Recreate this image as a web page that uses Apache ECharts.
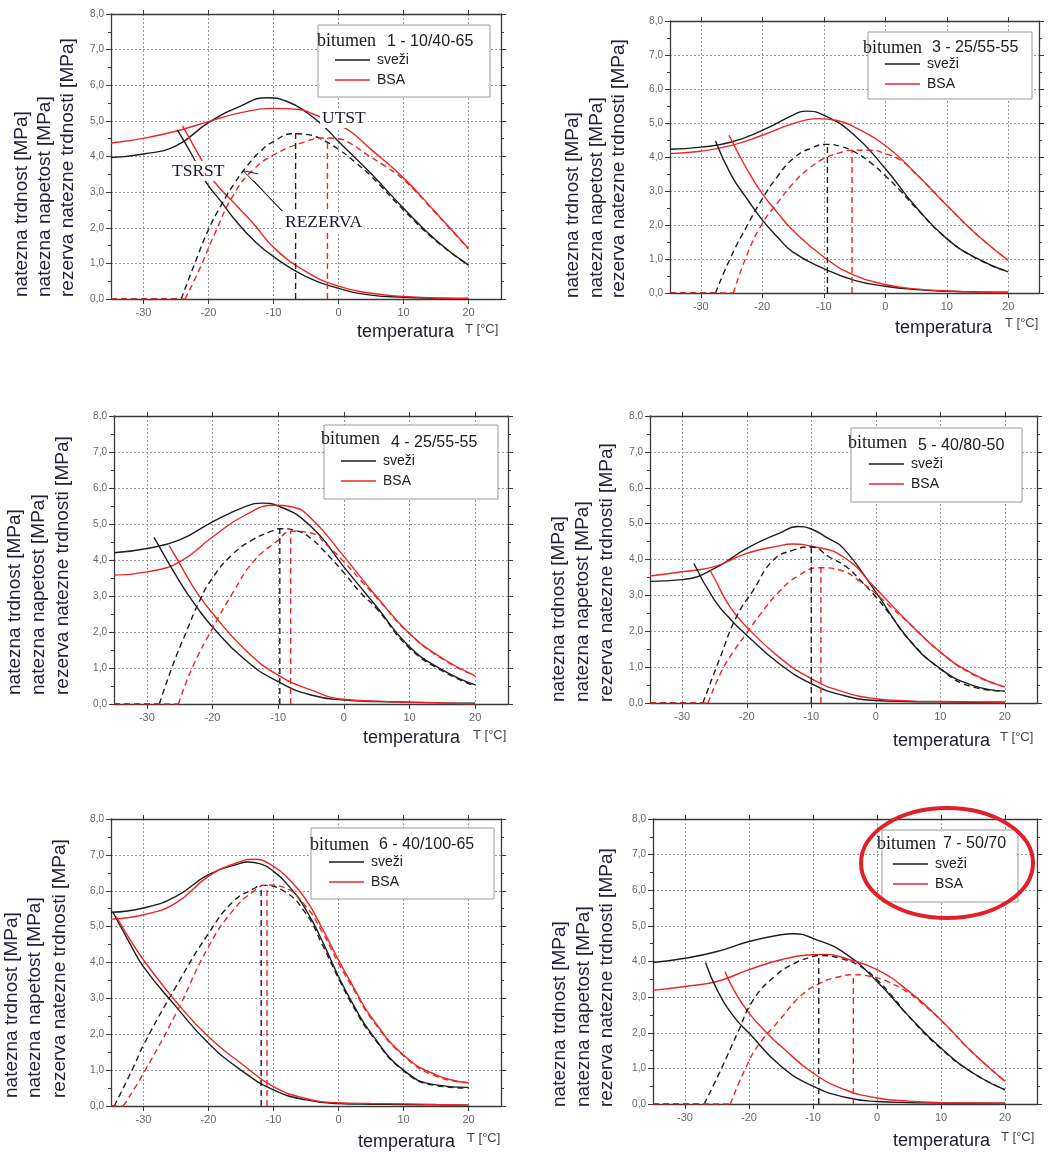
<!DOCTYPE html>
<html><head><meta charset="utf-8">
<script src="https://cdn.jsdelivr.net/npm/echarts@6/dist/echarts.min.js"></script>
<style>html,body{margin:0;padding:0;background:#fff}#c{width:1048px;height:1153px}</style>
</head><body><div id="c"></div><script>
// ---------- tick labels / categories ----------
const xTickValues = [-30, -20, -10, 0, 10, 20];
const xStart = -35;
const seriesNames = ['sveži', 'BSA'];
const panelCodes = ['1 - 10/40-65', '3 - 25/55-55', '4 - 25/55-55', '5 - 40/80-50', '6 - 40/100-65', '7 - 50/70'];
const yNameLines = ['natezna trdnost [MPa]', 'natezna napetost [MPa]', 'rezerva natezne trdnosti [MPa]'];

// ---------- panel 1 : bitumen 1 - 10/40-65 ----------
const p1FreshStrength = [[-35,3.97],[-30,4.07],[-25,4.3],[-20,4.95],[-15,5.42],[-11,5.65],[-8,5.55],[-5,5.25],[-2,4.8],[0,4.42],[5,3.52],[10,2.55],[15,1.65],[20,0.95]];
const p1BsaStrength = [[-35,4.38],[-30,4.51],[-25,4.71],[-20,4.98],[-15,5.23],[-10,5.35],[-6,5.32],[-4,5.2],[-2,5.05],[0,4.88],[2,4.68],[5,4.2],[10,3.4],[15,2.42],[20,1.42]];
const p1FreshStress = [[-24.8,4.75],[-22.4,4.0],[-20.4,3.29],[-18,2.72],[-16,2.24],[-13,1.64],[-10,1.19],[-5,0.63],[0,0.3],[5,0.11],[10,0.05],[15,0.02],[20,0.0]];
const p1BsaStress = [[-24,4.86],[-21.2,3.95],[-19.1,3.29],[-16,2.68],[-13,2.1],[-10,1.45],[-5,0.77],[0,0.36],[5,0.16],[10,0.07],[15,0.03],[20,0.02]];
const p1FreshReserve = [[-24.2,0],[-22,1.05],[-20,1.95],[-18,2.65],[-16,3.25],[-14,3.75],[-12,4.15],[-10,4.42],[-7,4.64],[-5,4.62],[-3,4.52],[0,4.2],[2.5,3.85],[5,3.45],[10,2.5],[15,1.63],[20,0.95]];
const p1BsaReserve = [[-23.6,0],[-21.2,0.91],[-19,1.85],[-16,2.97],[-13,3.65],[-10,4.04],[-6,4.36],[-2,4.52],[0,4.5],[2,4.35],[4,4.1],[7,3.75],[10,3.35],[15,2.4],[20,1.4]];
const p1FreshPeak = [-6.6, 4.65];
const p1BsaPeak = [-1.7, 4.52];
const p1RezervaArrow = [[-12.35,3.51],[-14.66,3.6],[-8.66,2.47],[-13.05,3.32]];

// ---------- panel 2 : bitumen 3 - 25/55-55 ----------
const p2FreshStrength = [[-35,4.23],[-30,4.29],[-25,4.44],[-20,4.78],[-15,5.23],[-13,5.35],[-10,5.23],[-5,4.64],[0,3.66],[5,2.53],[10,1.6],[15,1.01],[20,0.62]];
const p2BsaStrength = [[-35,4.1],[-30,4.17],[-25,4.34],[-20,4.64],[-15,4.98],[-11,5.13],[-8,5.08],[-5,4.88],[0,4.34],[5,3.51],[10,2.58],[15,1.7],[20,0.96]];
const p2FreshStress = [[-27.6,4.47],[-25,3.45],[-22.4,2.75],[-20,2.15],[-17.5,1.64],[-15,1.2],[-10,0.72],[-5,0.37],[0,0.2],[5,0.1],[10,0.05],[15,0.03],[20,0.02]];
const p2BsaStress = [[-25.4,4.64],[-22.4,3.61],[-20,2.92],[-17.6,2.38],[-15,1.84],[-10,1.06],[-5,0.52],[0,0.25],[5,0.12],[10,0.06],[15,0.03],[20,0.02]];
const p2FreshReserve = [[-27.6,0],[-25,1.1],[-22.4,2.0],[-20,2.77],[-17.6,3.41],[-15,3.95],[-12.2,4.25],[-9.5,4.37],[-7,4.3],[-5,4.15],[-2.5,3.85],[0,3.45],[2.5,3.0],[5,2.5],[10,1.6],[15,1.0],[20,0.62]];
const p2BsaReserve = [[-24.7,0],[-22.4,1.16],[-20,2.04],[-17.6,2.63],[-15,3.22],[-12.5,3.65],[-10,3.95],[-7.5,4.12],[-5.4,4.2],[-2.3,4.2],[0,4.1],[2.5,3.9],[5,3.5],[7.5,3.05],[10,2.58],[15,1.7],[20,0.96]];
const p2FreshPeak = [-9.4, 4.37];
const p2BsaPeak = [-5.4, 4.2];

// ---------- panel 3 : bitumen 4 - 25/55-55 ----------
const p3FreshStrength = [[-35,4.2],[-30,4.32],[-25,4.56],[-20,5.06],[-15,5.48],[-12.5,5.58],[-10,5.5],[-5,4.93],[0,3.81],[5,2.7],[10,1.59],[15,0.95],[20,0.53]];
const p3BsaStrength = [[-35,3.58],[-30,3.67],[-25,3.95],[-20,4.64],[-15,5.25],[-10.5,5.52],[-8,5.48],[-5,5.16],[0,4.1],[5,2.98],[10,1.96],[15,1.27],[20,0.78]];
const p3FreshStress = [[-28.9,4.63],[-25,3.4],[-22.5,2.72],[-20,2.14],[-15,1.22],[-10,0.62],[-5,0.25],[0,0.11],[5,0.07],[10,0.05],[15,0.03],[20,0.02]];
const p3BsaStress = [[-26.6,4.4],[-25,3.9],[-22.5,3.13],[-20,2.52],[-15,1.5],[-10,0.8],[-5,0.39],[0,0.13],[5,0.08],[10,0.05],[15,0.03],[20,0.0]];
const p3FreshReserve = [[-28.1,0],[-26,1.1],[-24,2.0],[-22,2.85],[-20,3.5],[-17,4.15],[-14,4.55],[-11,4.8],[-9.8,4.87],[-7,4.8],[-5,4.6],[-3,4.25],[0,3.65],[2.5,3.1],[5,2.65],[10,1.55],[15,0.92],[20,0.5]];
const p3BsaReserve = [[-25.2,0],[-23,1.04],[-20,2.1],[-16.8,3.12],[-13.8,3.95],[-10,4.55],[-8.1,4.8],[-5,4.75],[-2.5,4.4],[0,3.95],[2.5,3.45],[5,2.95],[10,1.95],[15,1.25],[20,0.78]];
const p3FreshPeak = [-9.75, 4.87];
const p3BsaPeak = [-8.1, 4.8];

// ---------- panel 4 : bitumen 5 - 40/80-50 ----------
const p4FreshStrength = [[-35,3.39],[-30,3.44],[-25,3.75],[-20,4.31],[-15,4.73],[-12,4.92],[-10,4.85],[-7.5,4.6],[-5,4.31],[0,3.1],[5,1.8],[10,0.96],[15,0.49],[20,0.33]];
const p4BsaStrength = [[-35,3.54],[-30,3.66],[-25,3.8],[-20,4.17],[-15,4.38],[-13,4.43],[-10,4.37],[-5,4.07],[0,3.19],[5,2.26],[10,1.42],[15,0.82],[20,0.45]];
const p4FreshStress = [[-28.2,3.89],[-25,2.87],[-22.5,2.33],[-20,1.89],[-15,1.1],[-10,0.54],[-5,0.21],[0,0.07],[5,0.04],[10,0.03],[15,0.02],[20,0.02]];
const p4BsaStress = [[-25.7,3.7],[-25,3.47],[-22.6,2.68],[-20,2.12],[-15,1.28],[-10,0.68],[-5,0.31],[0,0.12],[5,0.06],[10,0.04],[15,0.03],[20,0.02]];
const p4FreshReserve = [[-26.8,0],[-24.1,1.28],[-21.6,2.4],[-19,3.14],[-15.9,3.98],[-12.8,4.26],[-10,4.35],[-7.2,4.07],[-4.6,3.8],[-2.4,3.42],[0,2.96],[2.5,2.4],[5,1.8],[10,0.95],[15,0.45],[20,0.33]];
const p4BsaReserve = [[-26,0],[-24,0.85],[-22,1.45],[-20,1.95],[-18,2.45],[-15,3.1],[-12,3.55],[-8.7,3.77],[-5.5,3.7],[-2.4,3.38],[0,3.05],[2.5,2.65],[5,2.25],[10,1.42],[15,0.8],[20,0.45]];
const p4FreshPeak = [-10, 4.35];
const p4BsaPeak = [-8.5, 3.78];

// ---------- panel 5 : bitumen 6 - 40/100-65 ----------
const p5FreshStrength = [[-35,5.4],[-30,5.52],[-25,5.84],[-20,6.45],[-15,6.77],[-14,6.8],[-12,6.75],[-10,6.54],[-7.5,6.1],[-5,5.47],[-2.5,4.6],[0,3.61],[2.5,2.75],[5,2.03],[10,1.0],[15,0.59],[20,0.52]];
const p5BsaStrength = [[-35,5.21],[-30,5.33],[-25,5.66],[-20,6.4],[-15,6.82],[-13,6.88],[-10,6.68],[-7.5,6.3],[-5,5.75],[-2.5,4.95],[0,4.07],[2.5,3.25],[5,2.49],[10,1.42],[15,0.87],[20,0.65]];
const p5FreshStress = [[-34.7,5.4],[-32,4.5],[-30,3.88],[-25,2.77],[-20,1.75],[-15,1.0],[-10,0.45],[-5,0.17],[0,0.07],[5,0.05],[10,0.04],[15,0.03],[20,0.02]];
const p5BsaStress = [[-34.2,5.28],[-32,4.62],[-30,4.07],[-25,2.91],[-20,1.93],[-15,1.19],[-10,0.54],[-5,0.21],[0,0.09],[5,0.07],[10,0.06],[15,0.04],[20,0.02]];
const p5FreshReserve = [[-34.5,0],[-31.5,1.1],[-30,1.7],[-25,3.33],[-20,4.81],[-16.2,5.7],[-13.1,6.05],[-11.8,6.15],[-8.5,6.0],[-5,5.36],[-2.5,4.5],[0,3.56],[2.5,2.7],[5,2.0],[10,0.98],[15,0.57],[20,0.5]];
const p5BsaReserve = [[-33.1,0],[-30,0.91],[-25,2.58],[-20,4.44],[-16.2,5.46],[-13.1,5.98],[-11,6.16],[-8.5,6.1],[-5,5.56],[-2.5,4.85],[0,3.98],[2.5,3.2],[5,2.45],[10,1.4],[15,0.83],[20,0.65]];
const p5FreshPeak = [-11.9, 6.15];
const p5BsaPeak = [-11.0, 6.16];

// ---------- panel 6 : bitumen 7 - 50/70 ----------
const p6FreshStrength = [[-35,3.97],[-30,4.09],[-25,4.28],[-20,4.56],[-15,4.75],[-13,4.78],[-10,4.65],[-5,4.23],[0,3.44],[5,2.46],[10,1.57],[15,0.87],[20,0.4]];
const p6BsaStrength = [[-35,3.19],[-30,3.3],[-25,3.44],[-20,3.77],[-15,4.05],[-10,4.19],[-8,4.2],[-5,4.09],[0,3.77],[5,3.16],[10,2.36],[15,1.43],[20,0.64]];
const p6FreshStress = [[-26.8,3.97],[-25,3.21],[-22.4,2.46],[-20,1.99],[-15,1.06],[-10,0.5],[-5,0.19],[0,0.07],[5,0.04],[10,0.03],[15,0.02],[20,0.02]];
const p6BsaStress = [[-23.75,3.72],[-22.4,3.21],[-20,2.55],[-16.7,1.9],[-15,1.62],[-10,0.87],[-5,0.4],[0,0.17],[5,0.08],[10,0.04],[15,0.03],[20,0.02]];
const p6FreshReserve = [[-27,0],[-24.4,0.96],[-21.8,1.99],[-19.3,2.93],[-16,3.58],[-12.9,3.95],[-10,4.14],[-9,4.17],[-5.8,4.09],[-2.6,3.86],[0,3.49],[2.5,3.0],[5,2.45],[10,1.55],[15,0.87],[20,0.4]];
const p6BsaReserve = [[-22.9,0],[-20.4,1.06],[-18.3,1.71],[-15.2,2.36],[-12,3.02],[-8.9,3.39],[-5.7,3.58],[-3.6,3.63],[-1,3.58],[1.6,3.44],[5,3.11],[7.5,2.75],[10,2.35],[15,1.43],[20,0.64]];
const p6FreshPeak = [-9.1, 4.17];
const p6BsaPeak = [-3.7, 3.63];

// ---------- assemble ----------
const panelData = [
  [p1FreshStrength, p1BsaStrength, p1FreshStress, p1BsaStress, p1FreshReserve, p1BsaReserve, p1FreshPeak, p1BsaPeak],
  [p2FreshStrength, p2BsaStrength, p2FreshStress, p2BsaStress, p2FreshReserve, p2BsaReserve, p2FreshPeak, p2BsaPeak],
  [p3FreshStrength, p3BsaStrength, p3FreshStress, p3BsaStress, p3FreshReserve, p3BsaReserve, p3FreshPeak, p3BsaPeak],
  [p4FreshStrength, p4BsaStrength, p4FreshStress, p4BsaStress, p4FreshReserve, p4BsaReserve, p4FreshPeak, p4BsaPeak],
  [p5FreshStrength, p5BsaStrength, p5FreshStress, p5BsaStress, p5FreshReserve, p5BsaReserve, p5FreshPeak, p5BsaPeak],
  [p6FreshStrength, p6BsaStrength, p6FreshStress, p6BsaStress, p6FreshReserve, p6BsaReserve, p6FreshPeak, p6BsaPeak]
];

// layout (pixels)
const layout = [
  {grid:[111,14,390,285], box:[318,25,172,72], title:[317,41], code:[387,42], leg:[335,53], yn:[[22,45,68],297], xt:[357,332], tu:[465,329]},
  {grid:[670,21,369,272], box:[868,32,164,67], title:[863,48], code:[932,48], leg:[885,57], yn:[[573,597,619],298], xt:[895,328], tu:[1005,323]},
  {grid:[114,416,394,288], box:[324,425,174,74], title:[321,439], code:[391,443], leg:[341,454], yn:[[15,39,63],695], xt:[363,738], tu:[473,735]},
  {grid:[650,416,387,287], box:[851,428,171,74], title:[848,443], code:[918,446], leg:[869,457], yn:[[559,583,607],702], xt:[893,741], tu:[1000,737]},
  {grid:[111,819,390,287], box:[311,828,183,71], title:[310,845], code:[379,845], leg:[329,855], yn:[[12,35,60],1098], xt:[358,1142], tu:[467,1138]},
  {grid:[653,819,384,285], box:[882,830,136,72], title:[877,844], code:[943,844], leg:[893,857], yn:[[560,584,607],1107], xt:[893,1141], tu:[1001,1137]}
];

const BLACK = '#1e1e1e', RED = '#f02424';
const AX = '#3a3a3a';

const grids = [], xAxes = [], yAxes = [], series = [], legends = [], graphics = [];

layout.forEach((L, i) => {
  grids.push({left: L.grid[0], top: L.grid[1], width: L.grid[2], height: L.grid[3], show: false});
  const axLine = {show: true, onZero: false, lineStyle: {color: AX, width: 1.3}};
  xAxes.push({
    type: 'value', gridIndex: i, min: -35, max: 25, position: 'bottom',
    axisLine: axLine,
    axisTick: {show: true, inside: false, length: 5, customValues: xTickValues, lineStyle: {color: AX}},
    minorTick: {show: false},
    axisLabel: {customValues: xTickValues, color: '#666', fontSize: 11, fontFamily: 'Arial', margin: 8},
    splitLine: {show: true, lineStyle: {type: [2, 2], color: '#9a9a9a', width: 1}}
  });
  xAxes.push({
    type: 'value', gridIndex: i, min: -35, max: 25, position: 'top',
    axisLine: axLine,
    axisTick: {show: true, inside: false, length: 4, customValues: xTickValues, lineStyle: {color: AX}},
    axisLabel: {show: false}, splitLine: {show: false}
  });
  yAxes.push({
    type: 'value', gridIndex: i, min: 0, max: 8, interval: 1, position: 'left',
    axisLine: axLine,
    axisTick: {show: true, inside: false, length: 5, lineStyle: {color: AX}},
    minorTick: {show: true, splitNumber: 2, length: 3, lineStyle: {color: AX}},
    axisLabel: {color: '#666', fontSize: 10, fontFamily: 'Arial', margin: 7, formatter: v => v.toFixed(1).replace('.', ',')},
    splitLine: {show: true, lineStyle: {type: [2, 2], color: '#9a9a9a', width: 1}}
  });
  yAxes.push({
    type: 'value', gridIndex: i, min: 0, max: 8, interval: 1, position: 'right',
    axisLine: axLine,
    axisTick: {show: true, inside: false, length: 5, lineStyle: {color: AX}},
    minorTick: {show: true, splitNumber: 2, length: 3, lineStyle: {color: AX}},
    axisLabel: {show: false}, splitLine: {show: false}
  });

  const d = panelData[i];
  const xi = i * 2, yi = i * 2;
  const mk = (name, data, color, dashed, smooth, z) => ({
    type: 'line', name, data, xAxisIndex: xi, yAxisIndex: yi, symbol: 'none',
    smooth: smooth ? 0.5 : false,
    lineStyle: {color, width: 1.4, type: dashed ? [6, 4] : 'solid'}, itemStyle: {color},
    silent: true, z: z || 3
  });
  series.push(mk(seriesNames[0], d[0], BLACK, false, true));
  series.push(mk(seriesNames[1], d[1], RED, false, true));
  series.push(mk(seriesNames[0], d[2], BLACK, false, true));
  series.push(mk(seriesNames[1], d[3], RED, false, true));
  series.push(mk(seriesNames[0], d[4], BLACK, true, true));
  series.push(mk(seriesNames[1], d[5], RED, true, true));
  // reserve is zero below the crack temperature (dashed along the axis)
  series.push(mk(seriesNames[0], [[xStart, 0], d[4][0]], BLACK, true, false, 3));
  series.push(mk(seriesNames[1], [[xStart, 0], d[5][0]], RED, true, false, 4));
  // vertical drop lines at reserve maxima
  series.push(mk(seriesNames[0], [[d[6][0], 0], d[6]], BLACK, true, false));
  series.push(mk(seriesNames[1], [[d[7][0], 0], d[7]], RED, true, false));

  legends.push({
    data: seriesNames, orient: 'vertical', left: L.leg[0], top: L.leg[1], icon: 'rect',
    itemWidth: 35, itemHeight: 1.6, itemGap: 6, padding: 0, selectedMode: false, z: 6,
    textStyle: {fontSize: 14, fontFamily: 'Arial', color: '#222', padding: [0, 0, 0, 2]}
  });

  graphics.push({type: 'rect', shape: {x: L.box[0], y: L.box[1], width: L.box[2], height: L.box[3]},
    style: {fill: '#fff', stroke: '#9a9a9a', lineWidth: 1}, z: 5, silent: true});
  graphics.push({type: 'text', x: L.title[0], y: L.title[1], z: 7, silent: true,
    style: {text: 'bitumen', font: '18px "Liberation Serif", "Times New Roman", serif', fill: '#1a1a1a', align: 'left', verticalAlign: 'middle', textAlign: 'left', textVerticalAlign: 'middle'}});
  graphics.push({type: 'text', x: L.code[0], y: L.code[1], z: 7, silent: true,
    style: {text: panelCodes[i], font: '16px "Liberation Sans", Arial, sans-serif', fill: '#222', align: 'left', verticalAlign: 'middle', textAlign: 'left', textVerticalAlign: 'middle'}});
  yNameLines.forEach((t, k) => {
    graphics.push({type: 'text', x: L.yn[0][k], y: L.yn[1], rotation: Math.PI / 2, z: 7, silent: true,
      style: {text: t, font: '19px "Liberation Sans", Arial, sans-serif', fill: '#25203a', align: 'left', verticalAlign: 'middle', textAlign: 'left', textVerticalAlign: 'middle'}});
  });
  graphics.push({type: 'text', x: L.xt[0], y: L.xt[1], z: 7, silent: true,
    style: {text: 'temperatura', font: '18px "Liberation Sans", Arial, sans-serif', fill: '#1e1e2a', align: 'left', verticalAlign: 'middle', textAlign: 'left', textVerticalAlign: 'middle'}});
  graphics.push({type: 'text', x: L.tu[0], y: L.tu[1], z: 7, silent: true,
    style: {text: 'T [°C]', font: '13px "Liberation Sans", Arial, sans-serif', fill: '#444', align: 'left', verticalAlign: 'middle', textAlign: 'left', textVerticalAlign: 'middle'}});
});

// panel 1 annotation arrow
series.push({type: 'line', name: 'rezerva', data: p1RezervaArrow, xAxisIndex: 0, yAxisIndex: 0, symbol: 'none',
  lineStyle: {color: '#222', width: 1}, silent: true, z: 4});

// panel 1 labels
const annoFont = '17.5px "Liberation Serif", "Times New Roman", serif';
[['UTST', 320, 118], ['TSRST', 170, 171], ['REZERVA', 283, 222]].forEach(a => {
  graphics.push({type: 'text', x: a[1], y: a[2], z: 8, silent: true,
    style: {text: a[0], font: annoFont, fill: '#1a1a2a', backgroundColor: '#fff', padding: [1, 2], align: 'left', verticalAlign: 'middle', textAlign: 'left', textVerticalAlign: 'middle'}});
});

// red ellipse around legend of panel 6
graphics.push({type: 'ellipse', shape: {cx: 947, cy: 863, rx: 86, ry: 55}, z: 9, silent: true,
  style: {fill: 'none', stroke: '#e2202a', lineWidth: 4}});

const chart = echarts.init(document.getElementById('c'), null, {renderer: 'canvas'});
chart.setOption({
  animation: false,
  backgroundColor: '#fff',
  grid: grids, xAxis: xAxes, yAxis: yAxes, series, legend: legends, graphic: graphics
});
</script></body></html>
